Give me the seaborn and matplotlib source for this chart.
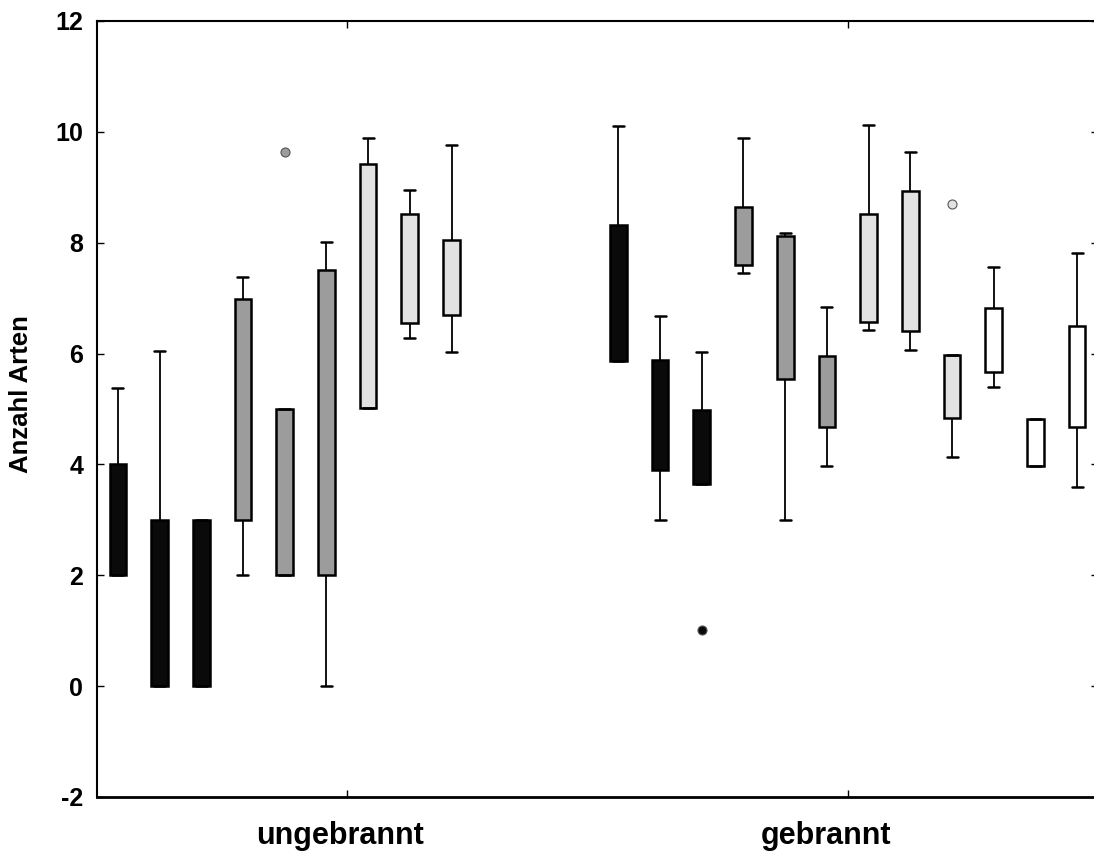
import numpy as np
import pandas as pd
import matplotlib
matplotlib.use("Agg")
import matplotlib.pyplot as plt
import matplotlib.transforms as mtransforms
import seaborn as sns

# ---- data ----
behandlung = ["ungebrannt", "gebrannt"]
gruppen = ["A1", "A2", "A3", "B1", "B2", "B3", "C1", "C2", "C3", "D1", "D2", "D3"]
farben = ["#0a0a0a"] * 3 + ["#9c9c9c"] * 3 + ["#e2e2e2"] * 3 + ["#ffffff"] * 3

# per group: observations (Anzahl Arten) giving whiskers, quartiles and outliers
werte_ungebrannt = {
    "A1": [2.0, 2.0, 3.0, 4.0, 5.37],
    "A2": [0.0, 0.0, 1.5, 3.0, 6.04],
    "A3": [0.0, 0.0, 1.5, 3.0, 3.0],
    "B1": [2.0, 3.0, 5.0, 6.99, 7.38],
    "B2": [2.0, 2.0, 2.0, 3.0, 3.5, 4.0, 5.0, 5.0, 9.64],
    "B3": [0.0, 2.0, 5.0, 7.5, 8.02],
    "C1": [5.02, 5.02, 7.0, 9.42, 9.89],
    "C2": [6.28, 6.56, 7.5, 8.52, 8.96],
    "C3": [6.03, 6.7, 7.3, 8.04, 9.76],
}
werte_gebrannt = {
    "A1": [5.87, 5.87, 7.0, 8.32, 10.1],
    "A2": [3.0, 3.9, 4.9, 5.89, 6.67],
    "A3": [1.01, 3.64, 3.64, 4.0, 4.3, 4.7, 4.99, 5.5, 6.03],
    "B1": [7.45, 7.59, 8.1, 8.64, 9.89],
    "B2": [3.0, 5.54, 7.0, 8.13, 8.18],
    "B3": [3.97, 4.68, 5.3, 5.96, 6.84],
    "C1": [6.43, 6.57, 7.5, 8.52, 10.13],
    "C2": [6.07, 6.41, 7.7, 8.94, 9.64],
    "C3": [4.13, 4.5, 4.84, 5.2, 5.5, 5.8, 5.97, 5.97, 8.70],
    "D1": [5.40, 5.67, 6.2, 6.83, 7.57],
    "D2": [3.97, 3.97, 4.4, 4.82, 4.82],
    "D3": [3.59, 4.68, 5.6, 6.49, 7.82],
}

rows = []
for beh, werte in zip(behandlung, [werte_ungebrannt, werte_gebrannt]):
    for g, vals in werte.items():
        for v in vals:
            rows.append({"Behandlung": beh, "Gruppe": g, "Arten": v})
df = pd.DataFrame(rows)

# ---- plot ----
sns.set_style("ticks")
plt.rcParams["font.family"] = ["Liberation Sans", "DejaVu Sans"]
plt.rcParams["axes.unicode_minus"] = False
plt.rcParams["text.color"] = "black"
plt.rcParams["axes.labelcolor"] = "black"
plt.rcParams["xtick.color"] = "black"
plt.rcParams["ytick.color"] = "black"
plt.rcParams["axes.edgecolor"] = "black"

W, H = 1094, 861
fig = plt.figure(figsize=(W / 100, H / 100), dpi=100)
ax = fig.add_axes([97 / W, 1 - 797 / H, 1001 / W, 776 / H])

GAP = 0.6
sns.boxplot(
    data=df, x="Behandlung", y="Arten", hue="Gruppe",
    order=behandlung, hue_order=gruppen, palette=farben, saturation=1,
    width=1.0, gap=GAP, linecolor="black", linewidth=1.8, whis=1.5,
    legend=False, ax=ax,
    medianprops={"linewidth": 0},
    whiskerprops={"linewidth": 1.3},
    capprops={"linewidth": 1.8},
    flierprops={"marker": "o", "markersize": 6.5,
                "markeredgecolor": "#555555", "markeredgewidth": 0.8},
)

# colour fliers like their box, widen caps a little
bw = 1.0 / len(gruppen) * (1 - GAP)
boxes = list(ax.patches)
for ln in ax.lines:
    xd = np.asarray(ln.get_xdata(), dtype=float)
    yd = np.asarray(ln.get_ydata(), dtype=float)
    if len(xd) == 0:
        continue
    if ln.get_marker() == "o" and ln.get_linestyle() in ("None", "", " "):
        for p in boxes:
            ext = p.get_path().get_extents()
            if ext.x0 - 1e-6 <= xd[0] <= ext.x1 + 1e-6:
                ln.set_markerfacecolor(p.get_facecolor())
                break
    elif len(xd) == 2 and yd[0] == yd[1] and xd[0] != xd[1] and ln.get_linewidth() > 0:
        c = xd.mean()
        ln.set_xdata([c - 0.33 * bw, c + 0.33 * bw])

ax.set_xlim(-0.5, 1.5)
ax.set_ylim(-2, 12)
ax.set_yticks(range(-2, 13, 2))
ax.tick_params(direction="in", length=5, width=1, top=True, right=True,
               colors="black")
ax.tick_params(axis="y", labelsize=18, pad=10)
ax.tick_params(axis="x", labelsize=22, pad=17)
for lab in ax.get_xticklabels() + ax.get_yticklabels():
    lab.set_fontweight("bold")
    lab.set_color("black")
# category labels sit slightly left of their ticks in the reference
for lab, dx in zip(ax.get_xticklabels(), [-7, -22]):
    lab.set_transform(lab.get_transform() +
                      mtransforms.ScaledTranslation(dx / 100, 0, fig.dpi_scale_trans))
ax.set_xlabel("")
ax.set_ylabel("Anzahl Arten", fontsize=18.5, fontweight="bold", color="black")
ax.yaxis.set_label_coords(-0.064, 0.519)
for name, s in ax.spines.items():
    s.set_linewidth(1.5)
    s.set_color("black")
    s.set_visible(True)
ax.spines["bottom"].set_linewidth(2)

fig.savefig("out.png", dpi=100)
